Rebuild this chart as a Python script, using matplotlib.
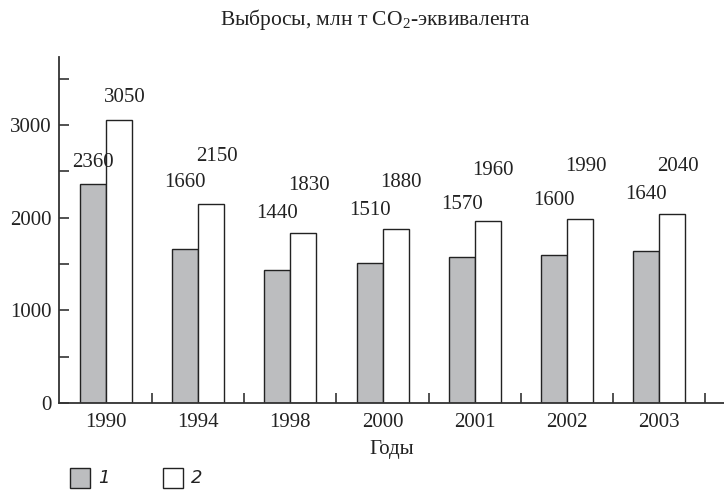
import matplotlib.pyplot as plt
from matplotlib.patches import Rectangle
from matplotlib.ticker import MultipleLocator, FixedLocator

# Выбросы парниковых газов по годам
years = ['1990', '1994', '1998', '2000', '2001', '2002', '2003']
series_1 = [2360, 1660, 1440, 1510, 1570, 1600, 1640]
series_2 = [3050, 2150, 1830, 1880, 1960, 1990, 2040]
legend_labels = ['1', '2']

# высота подписей значений (в единицах оси Y)
label_y_1 = [2590, 2374, 2050, 2072, 2137, 2180, 2245]
label_y_2 = [3291, 2655, 2342, 2374, 2504, 2557, 2547]

plt.rcParams['font.family'] = ['Liberation Serif', 'DejaVu Serif']
plt.rcParams['mathtext.fontset'] = 'custom'
plt.rcParams['mathtext.rm'] = 'Liberation Serif'

axis_color = '#333333'
text_color = '#222222'
gray = '#bcbdbf'
fs = 15

fig = plt.figure(figsize=(7.24, 4.9), dpi=100)
ax = fig.add_axes([0.0815, 0.1776, 0.918, 0.706])

x = list(range(len(years)))
w = 0.282
ax.bar([i - w / 2 for i in x], series_1, width=w, color=gray, edgecolor=text_color, linewidth=1.0)
ax.bar([i + w / 2 for i in x], series_2, width=w, color='white', edgecolor=text_color, linewidth=1.0)

# подписи значений над столбиками
for i in x:
    ax.text(i - w / 2, label_y_1[i], str(series_1[i]), ha='center', va='center',
            fontsize=fs, color=text_color)
    ax.text(i + w / 2 + 0.06, label_y_2[i], str(series_2[i]), ha='center', va='center',
            fontsize=fs, color=text_color)

ax.set_xlim(-0.51, 6.7)
ax.set_ylim(0, 3733)

for side in ['top', 'right']:
    ax.spines[side].set_visible(False)
for side in ['left', 'bottom']:
    ax.spines[side].set_color(axis_color)
    ax.spines[side].set_linewidth(1.3)

ax.yaxis.set_major_locator(MultipleLocator(1000))
ax.yaxis.set_minor_locator(MultipleLocator(500))
ax.tick_params(axis='y', which='both', direction='in', length=7, width=1.2,
               color=axis_color, labelsize=fs, labelcolor=text_color, pad=5)

ax.set_xticks(x)
ax.set_xticklabels(years)
ax.xaxis.set_minor_locator(FixedLocator([i + 0.5 for i in x]))
ax.tick_params(axis='x', which='major', length=0, labelsize=fs, labelcolor=text_color, pad=7)
ax.tick_params(axis='x', which='minor', direction='in', length=7, width=1.2, color=axis_color)

ax.set_xlabel('Годы', fontsize=fs, color=text_color, labelpad=6)
fig.text(0.519, 0.961, 'Выбросы, млн т CO$_2$-эквивалента', ha='center', va='center',
         fontsize=15.5, color=text_color)

# условные обозначения под осью
W, H = fig.get_size_inches() * fig.dpi
for k, (fc, lab) in enumerate(zip([gray, 'white'], legend_labels)):
    x0 = 70 + k * 93
    fig.add_artist(Rectangle((x0 / W, 1 - 488 / H), 20 / W, 20 / H, transform=fig.transFigure,
                             facecolor=fc, edgecolor=text_color, linewidth=1.0))
    fig.text((x0 + 28) / W, 1 - 478 / H, lab, ha='left', va='center', fontsize=13,
             family='DejaVu Sans', style='italic', color=text_color)

fig.savefig('out.png', dpi=100)
